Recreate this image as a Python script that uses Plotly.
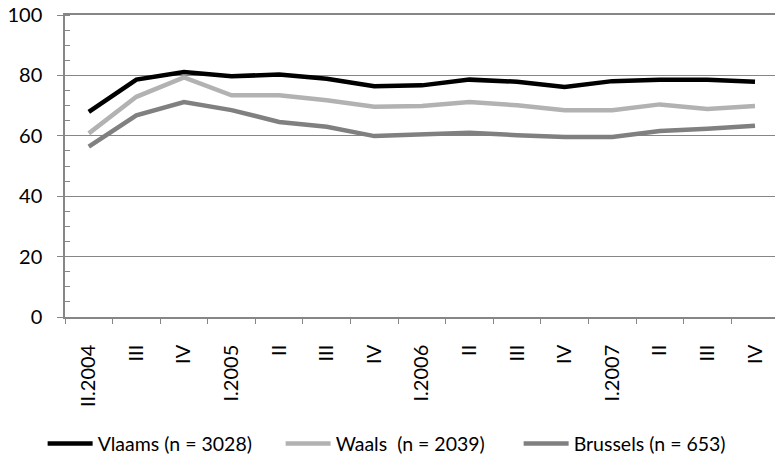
import plotly.graph_objects as go

# quarters from II.2004 to IV.2007
quarter_labels = ["II.2004", "III", "IV", "I.2005", "II", "III", "IV",
                  "I.2006", "II", "III", "IV", "I.2007", "II", "III", "IV"]

vlaams = [67.9, 78.6, 81.1, 79.7, 80.3, 78.9, 76.4, 76.7, 78.6, 77.9, 76.2, 78.1, 78.6, 78.6, 77.9]
waals = [60.8, 72.9, 79.3, 73.4, 73.4, 71.8, 69.6, 69.9, 71.2, 70.1, 68.5, 68.5, 70.4, 68.9, 69.9]
brussels = [56.4, 66.8, 71.2, 68.5, 64.6, 63.0, 59.9, 60.5, 61.0, 60.2, 59.6, 59.6, 61.6, 62.3, 63.3]

series_names = ["Vlaams (n = 3028)", "Waals  (n = 2039)", "Brussels (n = 653)"]
series_colors = ["#000000", "#b2b2b2", "#808080"]

x = list(range(len(quarter_labels)))
axis_color = "#868686"
font_family = "Lato, 'Open Sans', sans-serif"

fig = go.Figure()
for name, values, color in zip(series_names, [vlaams, waals, brussels], series_colors):
    fig.add_trace(go.Scatter(x=x, y=values, mode='lines', name=name,
                             line=dict(color=color, width=4.5)))

fig.update_layout(
    width=775, height=468,
    margin=dict(l=65, r=0, t=15, b=151, autoexpand=False),
    plot_bgcolor="white", paper_bgcolor="white",
    font=dict(family=font_family, size=20, color="#000000"),
    showlegend=True,
    legend=dict(orientation="h", xref="container", x=0.055, xanchor="left",
                y=-0.42, yanchor="middle",
                font=dict(size=19.5), itemwidth=45, entrywidth=178, tracegroupgap=0),
)

fig.update_xaxes(
    range=[-0.5, len(quarter_labels) - 0.58],
    tickmode="array", tickvals=x, ticktext=quarter_labels,
    tickangle=-90, ticks="", showgrid=False, ticklabelstandoff=18,
    showline=True, linecolor=axis_color, linewidth=1.5, mirror=True,
    minor=dict(tickmode="array", tickvals=[i - 0.5 for i in x],
               ticks="outside", ticklen=5, tickcolor=axis_color, showgrid=False),
    zeroline=False, fixedrange=True, automargin=False,
)

fig.update_yaxes(
    range=[0, 100], dtick=20,
    ticks="outside", ticklen=6, tickcolor=axis_color, ticklabelstandoff=11,
    showgrid=True, gridcolor=axis_color, gridwidth=1,
    showline=True, linecolor=axis_color, linewidth=1.5,
    minor=dict(dtick=5, ticks="inside", ticklen=5, tickcolor=axis_color, showgrid=False),
    zeroline=False, fixedrange=True, automargin=False,
)

# drop the default page margin so the figure sits at the window's corner
fig.write_html("out.html", config={"displayModeBar": False},
               post_script="document.body.style.margin = '0';")
